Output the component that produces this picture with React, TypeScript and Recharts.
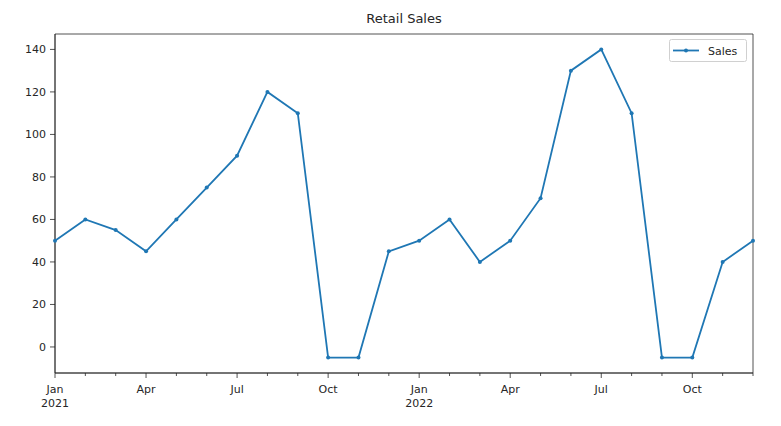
import {
  Line,
  LineChart,
  ReferenceArea,
  XAxis,
  YAxis,
} from 'recharts'

const months = [
  'Jan', 'Feb', 'Mar', 'Apr', 'May', 'Jun',
  'Jul', 'Aug', 'Sep', 'Oct', 'Nov', 'Dec',
]
const startYear = 2021

// monthly sales, Jan 2021 .. Dec 2022
const sales = [
  50, 60, 55, 45, 60, 75, 90, 120, 110, -5, -5, 45,
  50, 60, 40, 50, 70, 130, 140, 110, -5, -5, 40, 50,
]

const yTicks = [0, 20, 40, 60, 80, 100, 120, 140]

const data = sales.map((v, i) => ({ idx: i, sales: v }))
const xTicks = sales.map((_, i) => i)

const BLUE = '#1f77b4'
const INK = '#262626'
const FONT = '"DejaVu Sans", sans-serif'

const yMin = -12.25
const yMax = 147.25

function MonthTick(props: any) {
  const { x, y, payload } = props
  const i = payload.value as number
  const major = i % 3 === 0
  return (
    <g>
      <line x1={x} y1={y} x2={x} y2={y + (major ? 5 : 3)} stroke={INK} strokeWidth={0.8} />
      {major && (
        <text x={x} y={y + 20} textAnchor="middle" fontSize={11} fill={INK} fontFamily={FONT}>
          {months[i % 12]}
        </text>
      )}
      {i % 12 === 0 && (
        <text x={x} y={y + 34} textAnchor="middle" fontSize={11} fill={INK} fontFamily={FONT}>
          {startYear + i / 12}
        </text>
      )}
    </g>
  )
}

function SalesLegend() {
  return (
    <svg width={79} height={24} style={{ display: 'block' }}>
      <rect x={0.5} y={0.5} width={77} height={22} rx={2} fill="#fff" stroke="#d0d0d0" />
      <line x1={4} y1={11.5} x2={30} y2={11.5} stroke={BLUE} strokeWidth={1.8} />
      <circle cx={17} cy={11.5} r={2} fill={BLUE} />
      <text x={39} y={16} fontSize={11} fill={INK} fontFamily={FONT}>
        Sales
      </text>
    </svg>
  )
}

export default function App() {
  return (
    <div style={{ position: 'fixed', top: 0, left: 0, width: 781, height: 426, background: '#fff' }}>
      <div
        style={{
          position: 'absolute',
          top: 11,
          left: 55,
          width: 698,
          textAlign: 'center',
          fontFamily: FONT,
          fontSize: 13,
          color: INK,
        }}
      >
        Retail Sales
      </div>
      <LineChart
        width={781}
        height={426}
        data={data}
        margin={{ top: 34, right: 28, left: 0, bottom: 0 }}
      >
        <XAxis
          dataKey="idx"
          type="number"
          domain={[0, 23]}
          ticks={xTicks}
          interval={0}
          height={53}
          tickSize={0}
          tickMargin={0}
          tickLine={false}
          axisLine={{ stroke: INK, strokeWidth: 0.8 }}
          tick={<MonthTick />}
        />
        <YAxis
          type="number"
          domain={[yMin, yMax]}
          ticks={yTicks}
          allowDataOverflow
          width={55}
          tickSize={5}
          tickMargin={4}
          tickLine={{ stroke: INK, strokeWidth: 0.8 }}
          axisLine={{ stroke: INK, strokeWidth: 0.8 }}
          tick={{ fontSize: 11, fill: INK, fontFamily: FONT }}
        />
        <ReferenceArea
          x1={0}
          x2={23}
          y1={yMin}
          y2={yMax}
          fill="none"
          fillOpacity={0}
          stroke={INK}
          strokeWidth={0.8}
          strokeOpacity={1}
        />
        <Line
          type="linear"
          dataKey="sales"
          name="Sales"
          stroke={BLUE}
          strokeWidth={1.8}
          dot={{ r: 2, fill: BLUE, stroke: BLUE, strokeWidth: 0 }}
          activeDot={false}
          isAnimationActive={false}
        />
      </LineChart>
      <div style={{ position: 'absolute', top: 39, left: 669 }}>
        <SalesLegend />
      </div>
    </div>
  )
}
